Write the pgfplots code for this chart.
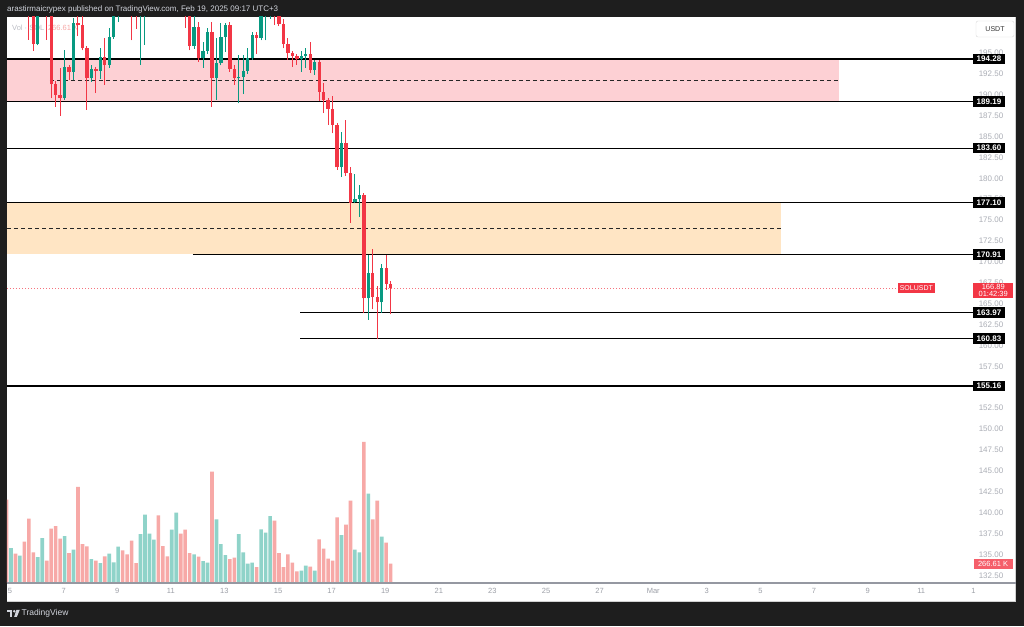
\documentclass[border=0pt]{standalone}
\usepackage{pgfplots}
\pgfplotsset{compat=1.18}
\usepackage{pgfplotstable}
\usepackage{fontspec}
\setmainfont{Liberation Sans}

\definecolor{tvred}{HTML}{F23645}
\definecolor{tvteal}{HTML}{089981}
\definecolor{volred}{HTML}{F7A9A7}
\definecolor{volteal}{HTML}{8FD3C9}
\definecolor{zonepink}{HTML}{FDD0D4}
\definecolor{zoneorange}{HTML}{FFE5C4}
\definecolor{frame}{HTML}{1E1E1E}
\definecolor{scalegrey}{HTML}{ABAEB6}
\definecolor{timegrey}{HTML}{9DA0A8}
\definecolor{headtext}{HTML}{D1D4DC}
\definecolor{axisgrey}{HTML}{9598A1}

\newcommand{\fs}[1]{\fontsize{#1}{#1}\selectfont}

% 4h candles of SOLUSDT, i = candle number from Feb 4 evening
% falling candles (close < open)
\pgfplotstableread{
i O H L C V
0 203.0 204.5 201.5 202.0 1167
2 203.5 204.2 202.0 202.8 411
4 203.6 204.0 201.5 202.5 579
5 202.5 203.0 196.55 200.5 901
6 200.5 201.0 195.27 196.04 429
9 202.0 202.8 196.6 200.8 313
10 200.8 201.5 189.58 191.25 761
11 191.25 191.6 188.57 189.97 798
12 189.97 193.17 187.5 189.58 621
14 193.36 193.6 191.77 192.69 420
16 198.6 201.0 197.0 198.35 1344
17 198.35 199.8 195.3 195.56 546
18 195.56 195.8 188.18 191.97 513
20 193.08 193.3 190.2 192.85 313
22 194.5 196.8 191.2 193.56 373
26 202.5 203.5 200.5 201.8 457
27 201.8 202.6 199.8 201.0 401
28 201.0 201.8 196.5 200.3 593
29 200.3 201.0 197.9 199.9 280
34 206.0 206.5 204.2 205.0 947
35 205.0 205.8 203.3 204.0 518
36 204.0 204.6 202.0 203.0 373
39 204.6 205.0 202.6 203.4 691
40 203.4 203.8 197.98 201.2 747
41 201.2 201.8 195.3 195.8 420
43 198.15 198.74 193.96 194.36 369
46 197.47 198.74 188.57 192.04 1559
50 198.35 198.7 192.76 193.08 336
51 193.08 193.5 191.17 191.97 355
56 197.15 197.55 194.9 196.76 224
60 202.4 202.8 198.35 200.8 873
61 200.8 201.2 198.2 198.47 420
62 198.47 199.0 195.56 196.04 224
63 196.04 196.76 194.16 194.96 401
64 194.96 195.2 193.36 194.68 285
65 194.68 194.9 193.56 194.24 163
68 194.84 196.35 192.57 192.96 229
70 193.89 194.2 189.25 190.37 611
71 190.37 191.37 187.79 189.38 481
72 189.38 189.6 186.38 188.3 341
73 188.3 189.85 185.39 186.38 313
74 186.38 186.6 181.0 181.32 919
76 184.27 186.98 180.3 180.6 817
77 180.6 181.3 174.7 177.1 1153
80 178.0 178.2 163.93 165.65 1974
82 168.64 171.5 164.33 165.84 891
83 165.84 167.12 160.75 165.17 1153
85 169.24 170.83 166.65 167.36 565
86 167.36 167.72 163.74 166.89 271
}\downtab

% rising candles (close > open)
\pgfplotstableread{
i O H L C V
1 202.0 204.5 201.4 203.5 490
3 202.8 204.5 202.2 203.6 383
7 196.04 201.5 195.9 200.8 364
8 200.8 203.0 200.0 202.0 630
13 189.58 195.36 189.4 193.36 658
15 192.69 199.2 191.77 198.6 467
19 191.97 193.6 191.57 193.08 336
21 192.85 195.6 191.9 194.5 280
23 193.56 198.0 193.2 196.95 411
24 196.95 202.0 196.7 200.8 289
25 200.8 203.0 198.7 202.5 509
30 199.9 202.5 193.6 201.5 686
31 201.5 204.0 195.96 203.0 957
32 203.0 206.0 202.5 205.0 691
33 205.0 207.0 204.0 206.0 607
37 203.0 204.8 202.4 204.0 747
38 204.0 205.5 203.2 204.6 985
42 195.8 199.5 195.5 198.15 401
44 194.44 196.35 193.24 195.24 308
45 195.24 198.0 194.9 197.47 285
47 192.04 196.76 189.38 193.76 891
48 193.76 198.55 193.5 196.88 546
49 196.88 198.6 195.15 198.35 392
52 191.97 194.7 188.98 192.1 686
53 192.1 194.76 190.06 192.85 429
54 192.85 195.56 192.5 194.44 271
55 194.44 197.5 194.2 197.15 285
57 196.76 201.5 196.5 200.5 751
58 200.5 202.5 196.5 201.6 705
59 201.6 203.2 199.1 202.4 938
66 194.24 195.2 192.76 194.6 173
67 194.6 195.63 193.17 194.84 243
69 192.96 194.1 192.37 193.89 173
75 181.32 185.58 180.13 184.27 672
78 177.14 180.5 177.0 177.53 467
79 177.53 179.2 175.4 178.0 429
81 165.65 170.83 163.06 168.64 1251
84 165.17 169.76 163.93 169.24 649
}\uptab

\pgfplotsset{
  chartbox/.style={at={(7pt,43pt)}, anchor=south west, scale only axis,
    width=1009pt, height=566pt, xmin=4.888, xmax=42.537},
  wick/.style={draw=none, mark=none, error bars/.cd, y dir=plus, y explicit,
    error mark=none, error bar style={draw=#1, line width=1pt}},
  body/.style={draw=none, mark=none, error bars/.cd, y dir=plus, y explicit,
    error mark=none, error bar style={draw=#1, line width=3.3pt}},
}

\begin{document}
\begin{tikzpicture}[x=1pt,y=1pt]
\useasboundingbox (0,0) rectangle (1024,626);
\fill[frame] (0,0) rectangle (1024,626);
\fill[white] (7,24) rectangle (1016,609);
\draw[black!18, line width=0.8pt] (7,24.4) -- (1015.6,24.4) -- (1015.6,609);

\node[anchor=west, inner sep=0pt, text=headtext, font=\fs{8}] at (7,617)
  {arastirmaicrypex published on TradingView.com, Feb 19, 2025 09:17 UTC+3};
\node[anchor=west, inner sep=0pt, font=\fs{7.5}] at (12,598)
  {\textcolor{scalegrey!80}{Vol · SOL}\enspace\textcolor{volred}{266.61 K}};

% volume
\begin{axis}[chartbox, ymin=0, ymax=7924, hide axis]
\addplot[ybar, bar width=3.6pt, bar shift=0pt, fill=volred, draw=none]
  table[x expr=4.87+\thisrow{i}/6, y=V] \downtab;
\addplot[ybar, bar width=3.6pt, bar shift=0pt, fill=volteal, draw=none]
  table[x expr=4.87+\thisrow{i}/6, y=V] \uptab;
\end{axis}

% price
\begin{axis}[chartbox, ymin=131.59, ymax=199.30,
  axis line style={draw=none}, major tick length=0pt,
  xtick={5,7,9,11,13,15,17,19,21,23,25,27,29,31,33,35,37,39,40.95},
  xticklabels={5,7,9,11,13,15,17,19,21,23,25,27,Mar,3,5,7,9,11,1},
  xticklabel style={anchor=center, yshift=-8pt, text=timegrey, font=\fs{7.5}},
  ytick={132.5,135,137.5,140,142.5,145,147.5,150,152.5,155,157.5,160,162.5,165,167.5,170,172.5,175,177.5,180,182.5,185,187.5,190,192.5,195},
  yticklabel pos=right,
  yticklabel style={anchor=center, xshift=-25pt, text=scalegrey, font=\fs{8},
    /pgf/number format/.cd, fixed, fixed zerofill, precision=2, assume math mode=true},
]
% zones
\addplot[fill=zonepink, draw=none] coordinates
  {(4.888,189.19) (35.933,189.19) (35.933,194.28) (4.888,194.28)} -- cycle;
\addplot[fill=zoneorange, draw=none] coordinates
  {(4.888,170.91) (33.769,170.91) (33.769,177.10) (4.888,177.10)} -- cycle;
\addplot[black!85, line width=0.8pt, dash pattern=on 4pt off 3pt] coordinates {(6.49,191.735) (35.933,191.735)};
\addplot[black!85, line width=0.8pt, dash pattern=on 4pt off 3pt] coordinates {(4.888,174.005) (33.769,174.005)};
% levels
\addplot[black, line width=1.3pt] coordinates {(4.888,194.28) (40.933,194.28)};
\addplot[black, line width=1.3pt] coordinates {(4.888,189.19) (40.933,189.19)};
\addplot[black, line width=1.3pt] coordinates {(4.888,183.60) (40.933,183.60)};
\addplot[black, line width=1.3pt] coordinates {(4.888,177.10) (40.933,177.10)};
\addplot[black, line width=1.3pt] coordinates {(11.828,170.91) (40.933,170.91)};
\addplot[black, line width=1.3pt] coordinates {(15.821,163.97) (40.933,163.97)};
\addplot[black, line width=1.3pt] coordinates {(15.821,160.83) (40.933,160.83)};
\addplot[black, line width=1.3pt] coordinates {(4.888,155.16) (40.933,155.16)};
% current price
\addplot[tvred!70, line width=0.8pt, dash pattern=on 1pt off 2pt] coordinates {(4.888,166.89) (39.515,166.89)};
% candles
\addplot[wick=tvred] table[x expr=4.87+\thisrow{i}/6, y=L, y error plus expr=\thisrow{H}-\thisrow{L}] \downtab;
\addplot[wick=tvteal] table[x expr=4.87+\thisrow{i}/6, y=L, y error plus expr=\thisrow{H}-\thisrow{L}] \uptab;
\addplot[body=tvred] table[x expr=4.87+\thisrow{i}/6, y=C, y error plus expr=\thisrow{O}-\thisrow{C}] \downtab;
\addplot[body=tvteal] table[x expr=4.87+\thisrow{i}/6, y=O, y error plus expr=\thisrow{C}-\thisrow{O}] \uptab;

\coordinate (a) at (axis cs:40.933,194.28);
\coordinate (b) at (axis cs:40.933,189.19);
\coordinate (c) at (axis cs:40.933,183.60);
\coordinate (d) at (axis cs:40.933,177.10);
\coordinate (e) at (axis cs:40.933,170.91);
\coordinate (f) at (axis cs:40.933,163.97);
\coordinate (g) at (axis cs:40.933,160.83);
\coordinate (h) at (axis cs:40.933,155.16);
\coordinate (cur) at (axis cs:40.933,166.89);
\coordinate (curl) at (axis cs:39.515,166.89);
\end{axis}

\draw[axisgrey, line width=1.3pt] (7,43) -- (1016,43);

\tikzset{lvl/.style={fill=black, text=white, font=\bfseries\fs{8}, inner xsep=3.5pt,
  inner ysep=0pt, minimum height=10.5pt, anchor=west}}
\node[lvl] at (a) {194.28};
\node[lvl] at (b) {189.19};
\node[lvl] at (c) {183.60};
\node[lvl] at (d) {177.10};
\node[lvl] at (e) {170.91};
\node[lvl] at (f) {163.97};
\node[lvl] at (g) {160.83};
\node[lvl] at (h) {155.16};

\node[fill=tvred, text=white, font=\fs{7}, inner sep=0pt, minimum height=10pt,
  minimum width=37pt, anchor=east] at (curl) {SOLUSDT};
\node[fill=tvred, text=white, font=\fs{7.5}, inner xsep=2pt, inner ysep=1.5pt,
  anchor=north west, align=center, minimum width=40pt] at ([yshift=5pt]cur)
  {166.89\\[-0.5pt]01:42:39};
\node[fill=tvred!80, text=white, font=\fs{7.5}, inner sep=0pt, minimum height=10pt,
  minimum width=39pt] at (993,62) {266.61 K};
\node[draw=black!15, fill=white, rounded corners=2pt, text=black!80, font=\fs{7},
  minimum width=38pt, minimum height=16pt] at (995,597) {USDT};

% footer logo
\fill[headtext] (7,13.6) rectangle (12.2,16.2);
\fill[headtext] (9.6,9.2) rectangle (12.2,16.2);
\fill[headtext] (14.3,14.8) circle (1.35);
\fill[headtext] (16.4,16.2) -- (19.8,16.2) -- (16.9,9.2) -- (14.2,9.2) -- cycle;
\node[anchor=west, inner sep=0pt, text=headtext, font=\fs{8.5}] at (21.5,12.8) {TradingView};
\end{tikzpicture}
\end{document}
